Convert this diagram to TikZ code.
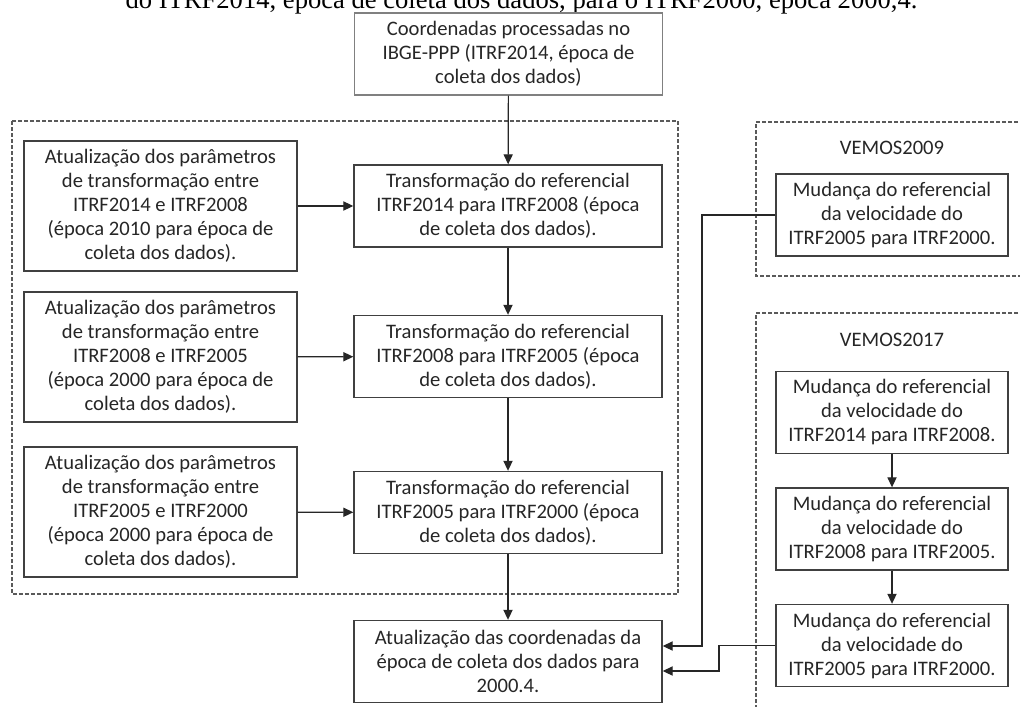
\documentclass[tikz,border=0pt]{standalone}
\usepackage{fontspec}
\setmainfont{Carlito}
\newfontfamily\capfont{Liberation Serif}
\usetikzlibrary{arrows.meta}
\definecolor{boxline}{RGB}{64,64,64}
\definecolor{softline}{RGB}{128,128,128}
\definecolor{dashline}{RGB}{90,90,90}

\begin{document}
\begin{tikzpicture}[x=0.5pt,y=0.5pt,
    every node/.style={font=\fontsize{10.3}{12}\selectfont, text=black!85},
    box/.style={draw=boxline, line width=0.7pt, align=center, inner sep=0pt, minimum width=154pt, minimum height=41pt},
    parbox/.style={box, minimum width=136.5pt, minimum height=65pt},
    velbox/.style={box, minimum width=116pt},
    group/.style={draw=dashline, line width=0.6pt, dash pattern=on 1.8pt off 1.2pt},
    arr/.style={draw=black!85, line width=0.6pt, -{Triangle[length=5pt,width=4.6pt]}}]
	  \useasboundingbox (0,0) rectangle (1020,-706);
	  \node[font=\capfont\fontsize{13.3}{15}\selectfont, text=black, anchor=base] (cap) at (521.5,-9) {do ITRF2014, época de coleta dos dados, para o ITRF2000, época 2000,4.};
	  \draw[group] (12,-121) rectangle (678,-594);
	  \draw[group] (1030,-122) -- (756,-122) -- (756,-276) -- (1030,-276);
	  \draw[group] (1030,-313) -- (756,-313) -- (756,-716);
	  \node[box, draw=softline] (ppp) at (508.5,-54) {Coordenadas processadas no\\IBGE-PPP (ITRF2014, época de\\coleta dos dados)};
	  \node[parbox] (par1) at (160.5,-206) {Atualização dos parâmetros\\de transformação entre\\ITRF2014 e ITRF2008\\(época 2010 para época de\\coleta dos dados).};
	  \node[parbox] (par2) at (160.5,-357) {Atualização dos parâmetros\\de transformação entre\\ITRF2008 e ITRF2005\\(época 2000 para época de\\coleta dos dados).};
	  \node[parbox] (par3) at (160.5,-512) {Atualização dos parâmetros\\de transformação entre\\ITRF2005 e ITRF2000\\(época 2000 para época de\\coleta dos dados).};
	  \node[box] (tr1) at (508,-206) {Transformação do referencial\\ITRF2014 para ITRF2008 (época\\de coleta dos dados).};
	  \node[box] (tr2) at (508,-356.5) {Transformação do referencial\\ITRF2008 para ITRF2005 (época\\de coleta dos dados).};
	  \node[box] (tr3) at (508,-512.5) {Transformação do referencial\\ITRF2005 para ITRF2000 (época\\de coleta dos dados).};
	  \node[box] (fim) at (508,-661.5) {Atualização das coordenadas da\\época de coleta dos dados para\\2000.4.};
	  \node (vem09) at (892,-148) {VEMOS2009};
	  \node[velbox] (v09) at (892,-215) {Mudança do referencial\\da velocidade do\\ITRF2005 para ITRF2000.};
	  \node (vem17) at (892,-340) {VEMOS2017};
	  \node[velbox] (v17a) at (892,-412.5) {Mudança do referencial\\da velocidade do\\ITRF2014 para ITRF2008.};
	  \node[velbox] (v17b) at (892,-529) {Mudança do referencial\\da velocidade do\\ITRF2008 para ITRF2005.};
	  \node[velbox] (v17c) at (892,-645.5) {Mudança do referencial\\da velocidade do\\ITRF2005 para ITRF2000.};
	  \draw[arr] (ppp) -- (tr1);
	  \draw[arr] (tr1) -- (tr2);
	  \draw[arr] (tr2) -- (tr3);
	  \draw[arr] (tr3) -- (fim);
	  \draw[arr] (par1) -- (tr1);
	  \draw[arr] (par2) -- (tr2);
	  \draw[arr] (par3) -- (tr3);
	  \draw[arr] (v17a) -- (v17b);
	  \draw[arr] (v17b) -- (v17c);
	  \coordinate (bend1) at (702,-646);
	  \coordinate (bend2) at (719,-671);
	  \draw[arr] (v09.west) -| (bend1) -- (bend1 -| fim.east);
	  \draw[arr] (v17c.west) -| (bend2) -- (bend2 -| fim.east);
	\end{tikzpicture}
\end{document}
